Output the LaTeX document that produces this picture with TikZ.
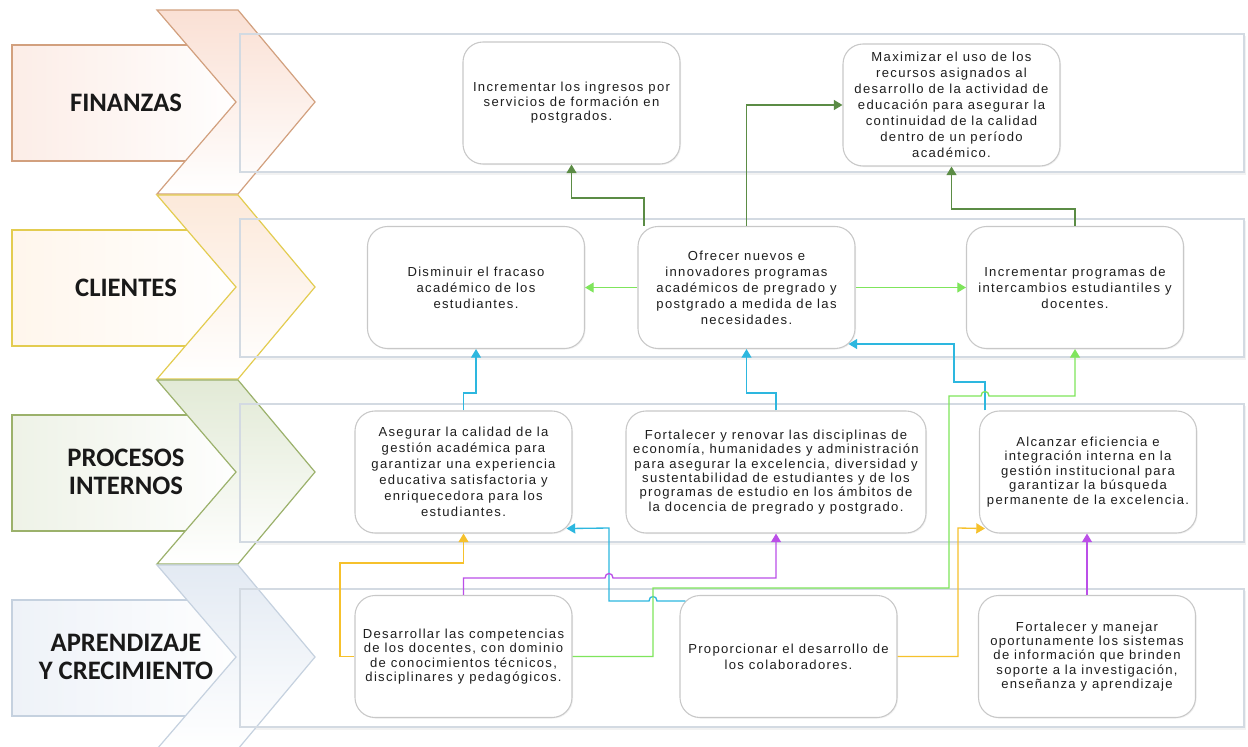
\documentclass[tikz,border=0pt]{standalone}
\usepackage{fontspec}
\setmainfont{Liberation Sans}
\newfontfamily\boxfont{Liberation Sans}[LetterSpace=10]
\newfontfamily\labfont{Carlito}
\usetikzlibrary{arrows.meta,calc,shadows}
\definecolor{cdkg}{HTML}{5B8C45}
\definecolor{clg}{HTML}{7FE55C}
\definecolor{ccy}{HTML}{2DB7DF}
\definecolor{cyl}{HTML}{F6C12C}
\definecolor{cpu}{HTML}{BB4FE8}
\definecolor{boxgray}{HTML}{C8C8C8}
\definecolor{lanegray}{HTML}{D3DAE2}
\definecolor{txt}{HTML}{1E1E1E}
\definecolor{finb}{HTML}{D2A07E}
\definecolor{finf}{HTML}{FAE0D4}
\definecolor{finr}{HTML}{FCEDE7}
\definecolor{clib}{HTML}{E3CC50}
\definecolor{clif}{HTML}{FCE9DA}
\definecolor{clir}{HTML}{FFF6EC}
\definecolor{prob}{HTML}{9BB16B}
\definecolor{prof}{HTML}{E2EAD6}
\definecolor{pror}{HTML}{EEF2E7}
\definecolor{aprb}{HTML}{C5D1DF}
\definecolor{aprf}{HTML}{E3EAF3}
\definecolor{aprr}{HTML}{EEF2F8}
\tikzset{
  conn/.style={line width=1pt, -{Triangle[width=7.5pt,length=6.5pt]}},
  dkg/.style={conn, draw=cdkg},
  lgr/.style={conn, draw=clg},
  cya/.style={conn, draw=ccy},
  yel/.style={conn, draw=cyl},
  pur/.style={conn, draw=cpu},
  obj/.style={draw=boxgray, fill=white, line width=0.8pt, rounded corners=15pt,
    minimum width=162.75pt, minimum height=91.5pt, align=center, inner sep=1.5pt,
    text=txt, font=\boxfont\fontsize{9.8}{12}\selectfont,
    drop shadow={shadow xshift=0.8pt, shadow yshift=-0.8pt, opacity=0.10}},
  tight/.style={font=\boxfont\fontsize{9.8}{10.8}\selectfont},
  lab/.style={align=center, text=black!90, font=\labfont\bfseries\fontsize{20}{20.5}\selectfont},
  lane/.style={draw=lanegray, line width=0.9pt},
  chev/.style={line width=0.9pt, top color=#1, middle color=white, bottom color=white},
}
\begin{document}
\begin{tikzpicture}[x=0.75pt,y=-0.75pt]
\useasboundingbox (0,0) rectangle (1248,746);
\fill[white] (0,0) rectangle (1248,746);
% lanes
\foreach \d in {0,185,370,555}{
  \fill[black!5] (242,36+\d) rectangle (1246,175+\d);
  \draw[lane, fill=white] (240,34+\d) rectangle (1244,172+\d);
}
% label rectangles
\draw[finb, line width=0.9pt, left color=finr, right color=white] (12,45) rectangle (250,161);
\draw[clib, line width=0.9pt, left color=clir, right color=white] (12,230) rectangle (250,346);
\draw[prob, line width=0.9pt, left color=pror, right color=white] (12,415) rectangle (250,531);
\draw[aprb, line width=0.9pt, left color=aprr, right color=white] (12,600) rectangle (250,716);
% chevrons
\draw[finb, chev=finf]
  (157,10) -- (238,10) -- (315,102) -- (238,194) -- (157,194) -- (236,102) -- cycle;
\draw[clib, chev=clif]
  (157,195) -- (238,195) -- (315,287) -- (238,379) -- (157,379) -- (236,287) -- cycle;
\draw[prob, chev=prof]
  (157,380) -- (238,380) -- (315,472) -- (238,564) -- (157,564) -- (236,472) -- cycle;
\draw[aprb, chev=aprf]
  (157,565) -- (238,565) -- (315,657) -- (238,749) -- (157,749) -- (236,657) -- cycle;
% lane borders again
\foreach \d in {0,185,370,555}{
  \draw[lane] (240,34+\d) rectangle (1244,172+\d);
}
% labels
\node[lab] (L1) at (126,103) {FINANZAS};
\node[lab] (L2) at (126,288) {CLIENTES};
\node[lab] (L3) at (126,472) {PROCESOS\\INTERNOS};
\node[lab] (L4) at (126,657) {APRENDIZAJE\\Y CRECIMIENTO};
% objectives
\node[obj, tight] (B1) at (571.5,103) {Incrementar los ingresos por\\servicios de formación en\\postgrados.};
\node[obj] (B2) at (951.5,105) {Maximizar el uso de los\\recursos asignados al\\desarrollo de la actividad de\\educación para asegurar la\\continuidad de la calidad\\dentro de un período\\académico.};
\node[obj] (B3) at (476,287.5) {Disminuir el fracaso\\académico de los\\estudiantes.};
\node[obj] (B4) at (746.5,287.5) {Ofrecer nuevos e\\innovadores programas\\académicos de pregrado y\\postgrado a medida de las\\necesidades.};
\node[obj] (B5) at (1075,287.5) {Incrementar programas de\\intercambios estudiantiles y\\docentes.};
\node[obj] (B6) at (463.5,472) {Asegurar la calidad de la\\gestión académica para\\garantizar una experiencia\\educativa satisfactoria y\\enriquecedora para los\\estudiantes.};
\node[obj, tight, minimum width=225pt] (B7) at (776,472) {Fortalecer y renovar las disciplinas de\\economía, humanidades y administración\\para asegurar la excelencia, diversidad y\\sustentabilidad de estudiantes y de los\\programas de estudio en los ámbitos de\\la docencia de pregrado y postgrado.};
\node[obj, tight] (B8) at (1088,472) {Alcanzar eficiencia e\\integración interna en la\\gestión institucional para\\garantizar la búsqueda\\permanente de la excelencia.};
\node[obj, tight] (B9) at (463.5,656.5) {Desarrollar las competencias\\de los docentes, con dominio\\de conocimientos técnicos,\\disciplinares y pedagógicos.};
\node[obj] (B10) at (788.5,656.5) {Proporcionar el desarrollo de\\los colaboradores.};
\node[obj, tight] (B11) at (1087,656.5) {Fortalecer y manejar\\oportunamente los sistemas\\de información que brinden\\soporte a la investigación,\\enseñanza y aprendizaje};
% connectors: finanzas <- clientes
\draw[dkg] (B4.north -| 644,0) -- (644,198) -| (B1.south);
\draw[dkg] (B4.north) |- (B2.west);
\draw[dkg] (B5.north) -- (1075,209) -| (B2.south);
% clientes internal
\draw[lgr] (B4.west) -- (B3.east);
\draw[lgr] (B4.east) -- (B5.west);
% procesos -> clientes
\draw[cya] (B6.north) -- (463.5,393) -| (B3.south);
\draw[cya] (B7.north) -- (776,393) -| (B4.south);
\draw[cya] (B8.north -| 985,0) |- (954,382) |- ($(B4.south east)+(-7,-5)$);
% aprendizaje -> procesos / clientes
\draw[cya] ($(B10.north west)+(6,6)$) -- (657,601) .. controls (657,595) and (649,595) .. (649,601)
  -- (609,601) -- (609,528) -- ($(B6.south east)+(-6,-5)$);
\draw[yel] (B9.west) -| (340,563) -| (B6.south);
\draw[yel] (B10.east) -| (958,528) -- ($(B8.south west)+(6,-5)$);
\draw[pur] (B9.north) -- (463.5,578) -- (605,578) .. controls (605,572) and (613,572) .. (613,578) -| (B7.south);
\draw[pur] (B11.north) -- (B11.north |- B8.south);
\draw[lgr] (B9.east) -| (653,588) -| (949,396) -- (981,396) .. controls (981,390) and (989,390) .. (989,396) -| (B5.south);
\end{tikzpicture}
\end{document}
